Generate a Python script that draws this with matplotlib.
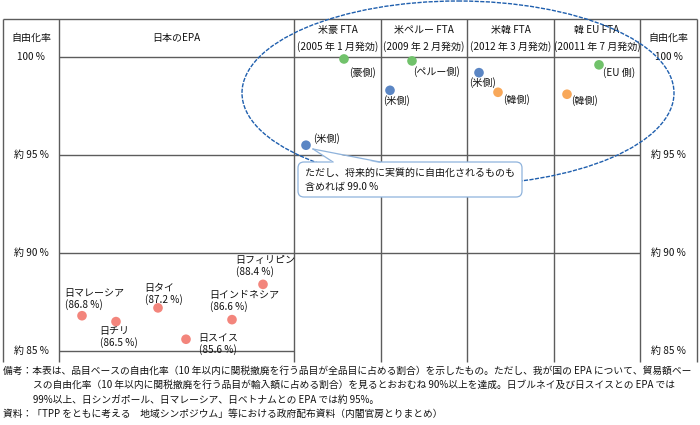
import matplotlib
matplotlib.use('Agg')
import matplotlib.pyplot as plt
from matplotlib.patches import Ellipse, FancyBboxPatch, Polygon

plt.rcParams['font.family'] = ['Noto Sans CJK JP', 'DejaVu Sans']

# data: liberalisation rate (%)
epa_names = ['日マレーシア', '日チリ', '日タイ', '日スイス', '日インドネシア', '日フィリピン']
epa_rates = [86.8, 86.5, 87.2, 85.6, 86.6, 88.4]

fta_titles = ['米豪 FTA', '米ペルー FTA', '米韓 FTA', '韓 EU FTA']
fta_dates = ['(2005 年 1 月発効)', '(2009 年 2 月発効)', '(2012 年 3 月発効)', '(20011 年 7 月発効)']
fta_sides = ['(豪側)', '(米側)', '(ペルー側)', '(米側)', '(米側)', '(韓側)', '(EU 側)', '(韓側)']
fta_rates = [99.9, 95.5, 99.8, 98.3, 99.2, 98.2, 99.6, 98.1]
fta_party = ['g', 'b', 'g', 'b', 'b', 'o', 'g', 'o']

row_labels = ['100 %', '約 95 %', '約 90 %', '約 85 %']
row_levels = [100, 95, 90, 85]

colors = {'r': '#f3857c', 'g': '#71c26b', 'b': '#5b86c4', 'o': '#f8a85a'}

# layout (pixels)
epa_x = [82, 116, 158, 186, 232, 263]
epa_lab = [(64, 293), (99, 331), (144, 288), (198, 338), (209, 295), (235, 260)]
fta_x = [344, 306, 412, 390, 479, 498, 599, 567]
fta_lab = [(363, 73), (327, 139), (436, 72), (397, 101), (483, 83), (517, 100), (619, 73), (585, 101)]
col_x = [3, 59, 294, 381, 467, 554, 640, 697]
top_px, y100_px, bot_px = 19, 57, 362
px_per_pct = 19.6


def pct(py):
    return 100 - (py - y100_px) / px_per_pct


fig = plt.figure(figsize=(7, 4.25), dpi=100)
ax = fig.add_axes([0, 0, 1, 1])
ax.set_xlim(0, 700)
ax.set_ylim(pct(425), pct(0))
ax.axis('off')

ov = fig.add_axes([0, 0, 1, 1])
ov.set_xlim(0, 700)
ov.set_ylim(425, 0)
ov.axis('off')

lc = '#5c5c5c'
lw = 1.0
tc = '#111111'
# table grid
ax.hlines(pct(top_px), col_x[0], col_x[-1], color=lc, lw=lw)
ax.hlines(row_levels[:3], col_x[1], col_x[-2], color=lc, lw=lw)
ax.hlines(row_levels[3], col_x[1], col_x[2], color=lc, lw=lw)
ax.vlines(col_x, pct(bot_px), pct(top_px), color=lc, lw=lw)

# points
ax.scatter(epa_x, epa_rates, s=48, color=colors['r'], edgecolors='none', zorder=3)
ax.scatter(fta_x, fta_rates, s=48, color=[colors[p] for p in fta_party],
           edgecolors='none', zorder=3)

fs = 7.2
# headers
for i, lab in enumerate(row_labels):
    for xc in [(col_x[0] + col_x[1]) / 2, (col_x[-2] + col_x[-1]) / 2]:
        ov.text(xc, y100_px + (100 - row_levels[i]) * px_per_pct, lab,
                ha='center', va='center', fontsize=fs, color=tc)
for xc in [(col_x[0] + col_x[1]) / 2, (col_x[-2] + col_x[-1]) / 2]:
    ov.text(xc, 38, '自由化率', ha='center', va='center', fontsize=fs, color=tc)
ov.text((col_x[1] + col_x[2]) / 2, 38, '日本のEPA', ha='center', va='center',
        fontsize=fs, color=tc)
for i in range(4):
    xc = (col_x[2 + i] + col_x[3 + i]) / 2
    ov.text(xc, 30, fta_titles[i], ha='center', va='center', fontsize=fs, color=tc)
    ov.text(xc, 47, fta_dates[i], ha='center', va='center', fontsize=fs, color=tc)

# point labels
for name, r, (lx, ly) in zip(epa_names, epa_rates, epa_lab):
    ov.text(lx, ly, name, ha='left', va='center', fontsize=fs, color=tc)
    ov.text(lx + 1, ly + 12, '(%.1f %%)' % r, ha='left', va='center', fontsize=fs,
            color=tc)
for s, (lx, ly) in zip(fta_sides, fta_lab):
    ov.text(lx, ly, s, ha='center', va='center', fontsize=fs, color=tc)

# dashed ellipse
ov.add_patch(Ellipse((458, 93), 432, 184, fill=False, ec='#1f5fae', lw=1.0,
                     ls=(0, (3, 1)), zorder=4))

# callout
bc = '#8fb3dc'
ov.add_patch(FancyBboxPatch((300, 164), 220, 31, boxstyle='round,pad=2,rounding_size=6',
                            fc='white', ec=bc, lw=0.9, zorder=5))
ov.add_patch(Polygon([(313, 149), (333, 163), (379, 163)], closed=True, fc='white',
                     ec='none', zorder=6))
ov.plot([313, 333], [149, 162], color=bc, lw=0.9, zorder=7)
ov.plot([313, 380], [149, 162], color=bc, lw=0.9, zorder=7)
ov.text(305, 173, 'ただし、将来的に実質的に自由化されるものも', ha='left', va='center',
        fontsize=fs, color=tc, zorder=8)
ov.text(305, 187, '含めれば 99.0 %', ha='left', va='center', fontsize=fs,
        color=tc, zorder=8)

# notes
nfs = 7.0
notes = [
    (3, 371, '備考：本表は、品目ベースの自由化率（10 年以内に関税撤廃を行う品目が全品目に占める割合）を示したもの。ただし、我が国の EPA について、貿易額ベー'),
    (33, 385, 'スの自由化率（10 年以内に関税撤廃を行う品目が輸入額に占める割合）を見るとおおむね 90%以上を達成。日ブルネイ及び日スイスとの EPA では'),
    (33, 400, '99%以上、日シンガポール、日マレーシア、日ベトナムとの EPA では約 95%。'),
    (3, 414, '資料：「TPP をともに考える　地域シンポジウム」等における政府配布資料（内閣官房とりまとめ）'),
]
for x, y, t in notes:
    ov.text(x, y, t, ha='left', va='center', fontsize=nfs, color=tc)

fig.savefig('out.png', dpi=100, facecolor='white')
